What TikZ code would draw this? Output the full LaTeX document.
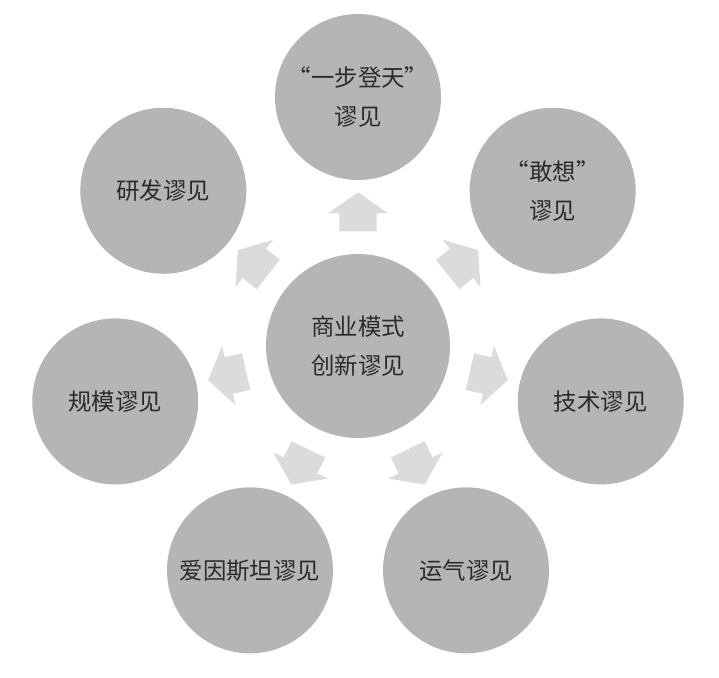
\documentclass[tikz,border=0pt]{standalone}
\usepackage{fontspec}
\setmainfont{Noto Sans CJK SC}
\usetikzlibrary{shapes.arrows}
\definecolor{ballgray}{HTML}{B5B5B5}
\definecolor{arrowgray}{HTML}{DBDBDB}
\definecolor{textgray}{HTML}{2B2B2B}

\begin{document}
\begin{tikzpicture}[ball/.style={circle,fill=ballgray,minimum size=4.98cm,inner sep=0pt,align=center,text=textgray,font=\fontsize{20}{33}\selectfont},
hub/.style={ball,minimum size=5.52cm},
push/.style={single arrow,fill=arrowgray,minimum height=1.17cm,minimum width=0pt,single arrow head extend=0.345cm,single arrow tip angle=110,inner xsep=0pt,inner ysep=0.555cm}]
\useasboundingbox (-10.74,-9.93) rectangle (10.83,10.38);

\node[hub] (H) at (0,0) {商业模式\\创新谬见};

\node[ball] (A) at (90:7.47) {“一步登天”\\谬见};
\node[ball] (B) at (38.57:7.47) {“敢想”\\谬见};
\node[ball] (C) at (-12.86:7.47) {技术谬见};
\node[ball] (D) at (-64.29:7.47) {运气谬见};
\node[ball] (E) at (-115.71:7.47) {爱因斯坦谬见};
\node[ball] (F) at (-167.14:7.47) {规模谬见};
\node[ball] (G) at (141.43:7.47) {研发谬见};

\node[push,rotate=90] (pA) at (90:3.83) {}; %H-A
\node[push,rotate=38.57] (pB) at (38.57:3.83) {}; %H-B
\node[push,rotate=-12.86] (pC) at (-12.86:3.83) {}; %H-C
\node[push,rotate=-64.29] (pD) at (-64.29:3.83) {}; %H-D
\node[push,rotate=-115.71] (pE) at (-115.71:3.83) {}; %H-E
\node[push,rotate=-167.14] (pF) at (-167.14:3.83) {}; %H-F
\node[push,rotate=141.43] (pG) at (141.43:3.83) {}; %H-G

\end{tikzpicture}
\end{document}
